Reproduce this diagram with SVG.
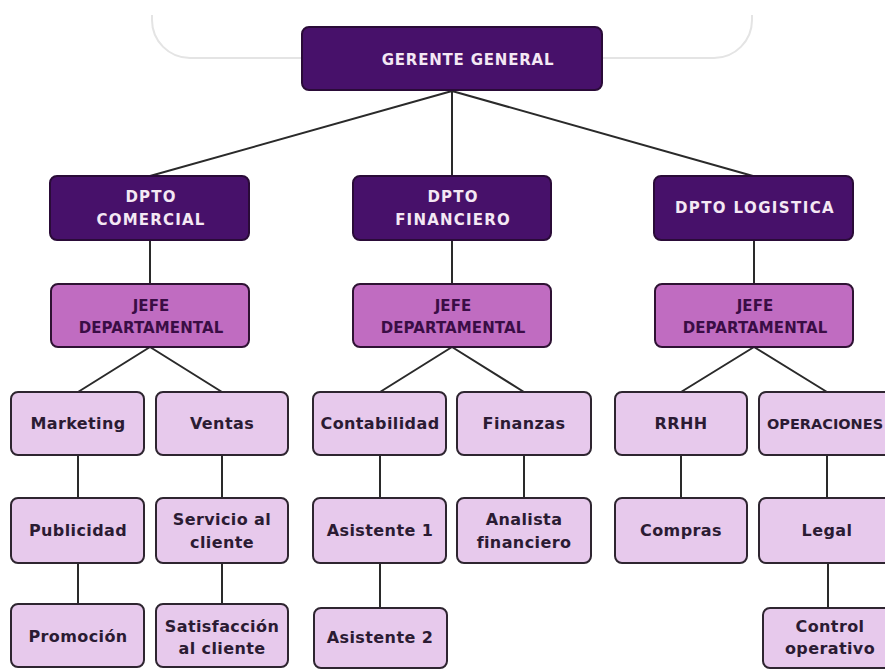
<svg xmlns="http://www.w3.org/2000/svg" width="885" height="669" viewBox="0 0 885 669">
<style>
.bg{fill:none;stroke:#e4e4e4;stroke-width:2}
.ln{stroke:#2a2a2a;stroke-width:2;fill:none}
.dk{fill:#47116a;stroke:#2a0b38;stroke-width:2}
.md{fill:#c06cc1;stroke:#2e1233;stroke-width:2}
.lt{fill:#e7c9ec;stroke:#2e2530;stroke-width:2}
text{font-family:"DejaVu Sans","Liberation Sans",sans-serif;font-weight:bold;text-anchor:middle}
.tw{fill:#f4e8f4;font-size:15px;letter-spacing:1.2px}
.tj{fill:#3a0d45;font-size:15px;letter-spacing:0.1px}
.tl{fill:#2b1b33;font-size:16px;letter-spacing:0.4px}
</style>
<rect width="885" height="669" fill="#ffffff"/>
<path class="bg" d="M152,15 V20 A38,38 0 0 0 190,58 H714 A38,38 0 0 0 752,20 V15"/>
<g id="connectors">
<path class="ln" d="M452,91 L150,176 M452,91 L452,176 M452,91 L753,176"/>
<path class="ln" d="M150,240 V284 M452,240 V284 M754,240 V284"/>
<path class="ln" d="M150,347 L78,392 M150,347 L222,392 M452,347 L380,392 M452,347 L524,392 M754,347 L681,392 M754,347 L827,392"/>
<path class="ln" d="M78,455 V498 M78,563 V604 M222,455 V498 M222,563 V604 M380,455 V498 M380,563 V608 M524,455 V498 M681,455 V498 M827,455 V498 M828,563 V608"/>
</g>
<g id="gerente"><rect class="dk" x="302" y="27" width="300" height="63" rx="7"/><text class="tw" x="468" y="65" style="letter-spacing:0.8px">GERENTE GENERAL</text></g>
<g id="dpto-comercial"><rect class="dk" x="50" y="176" width="199" height="64" rx="7"/><text class="tw" x="151" y="202">DPTO</text><text class="tw" x="151" y="225">COMERCIAL</text></g>
<g id="dpto-financiero"><rect class="dk" x="353" y="176" width="198" height="64" rx="7"/><text class="tw" x="453" y="202">DPTO</text><text class="tw" x="453" y="225">FINANCIERO</text></g>
<g id="dpto-logistica"><rect class="dk" x="654" y="176" width="199" height="64" rx="7"/><text class="tw" x="755" y="213" style="letter-spacing:1.4px">DPTO LOGISTICA</text></g>
<g id="jefe-comercial"><rect class="md" x="51" y="284" width="198" height="63" rx="7"/><text class="tj" x="151" y="311">JEFE</text><text class="tj" x="151" y="333">DEPARTAMENTAL</text></g>
<g id="jefe-financiero"><rect class="md" x="353" y="284" width="198" height="63" rx="7"/><text class="tj" x="453" y="311">JEFE</text><text class="tj" x="453" y="333">DEPARTAMENTAL</text></g>
<g id="jefe-logistica"><rect class="md" x="655" y="284" width="198" height="63" rx="7"/><text class="tj" x="755" y="311">JEFE</text><text class="tj" x="755" y="333">DEPARTAMENTAL</text></g>
<g id="marketing"><rect class="lt" x="11" y="392" width="133" height="63" rx="7"/><text class="tl" x="78" y="429">Marketing</text></g>
<g id="ventas"><rect class="lt" x="156" y="392" width="132" height="63" rx="7"/><text class="tl" x="222" y="429">Ventas</text></g>
<g id="contabilidad"><rect class="lt" x="313" y="392" width="133" height="63" rx="7"/><text class="tl" x="380" y="429">Contabilidad</text></g>
<g id="finanzas"><rect class="lt" x="457" y="392" width="134" height="63" rx="7"/><text class="tl" x="524" y="429">Finanzas</text></g>
<g id="rrhh"><rect class="lt" x="615" y="392" width="132" height="63" rx="7"/><text class="tl" x="681" y="429">RRHH</text></g>
<g id="operaciones"><rect class="lt" x="759" y="392" width="136" height="63" rx="7"/><text class="tl" x="767" y="429" style="text-anchor:start;font-size:14.5px;letter-spacing:0">OPERACIONES</text></g>
<g id="publicidad"><rect class="lt" x="11" y="498" width="133" height="65" rx="7"/><text class="tl" x="78" y="536">Publicidad</text></g>
<g id="servicio"><rect class="lt" x="156" y="498" width="132" height="65" rx="7"/><text class="tl" x="222" y="525">Servicio al</text><text class="tl" x="222" y="548">cliente</text></g>
<g id="asistente1"><rect class="lt" x="313" y="498" width="133" height="65" rx="7"/><text class="tl" x="380" y="536">Asistente 1</text></g>
<g id="analista"><rect class="lt" x="457" y="498" width="134" height="65" rx="7"/><text class="tl" x="524" y="525">Analista</text><text class="tl" x="524" y="548">financiero</text></g>
<g id="compras"><rect class="lt" x="615" y="498" width="132" height="65" rx="7"/><text class="tl" x="681" y="536">Compras</text></g>
<g id="legal"><rect class="lt" x="759" y="498" width="136" height="65" rx="7"/><text class="tl" x="827" y="536">Legal</text></g>
<g id="promocion"><rect class="lt" x="11" y="604" width="133" height="63" rx="7"/><text class="tl" x="78" y="642">Promoción</text></g>
<g id="satisfaccion"><rect class="lt" x="156" y="604" width="132" height="63" rx="7"/><text class="tl" x="222" y="632">Satisfacción</text><text class="tl" x="222" y="654">al cliente</text></g>
<g id="asistente2"><rect class="lt" x="314" y="608" width="133" height="60" rx="7"/><text class="tl" x="380" y="643">Asistente 2</text></g>
<g id="control"><rect class="lt" x="763" y="608" width="132" height="60" rx="7"/><text class="tl" x="830" y="632">Control</text><text class="tl" x="830" y="654">operativo</text></g>
</svg>
